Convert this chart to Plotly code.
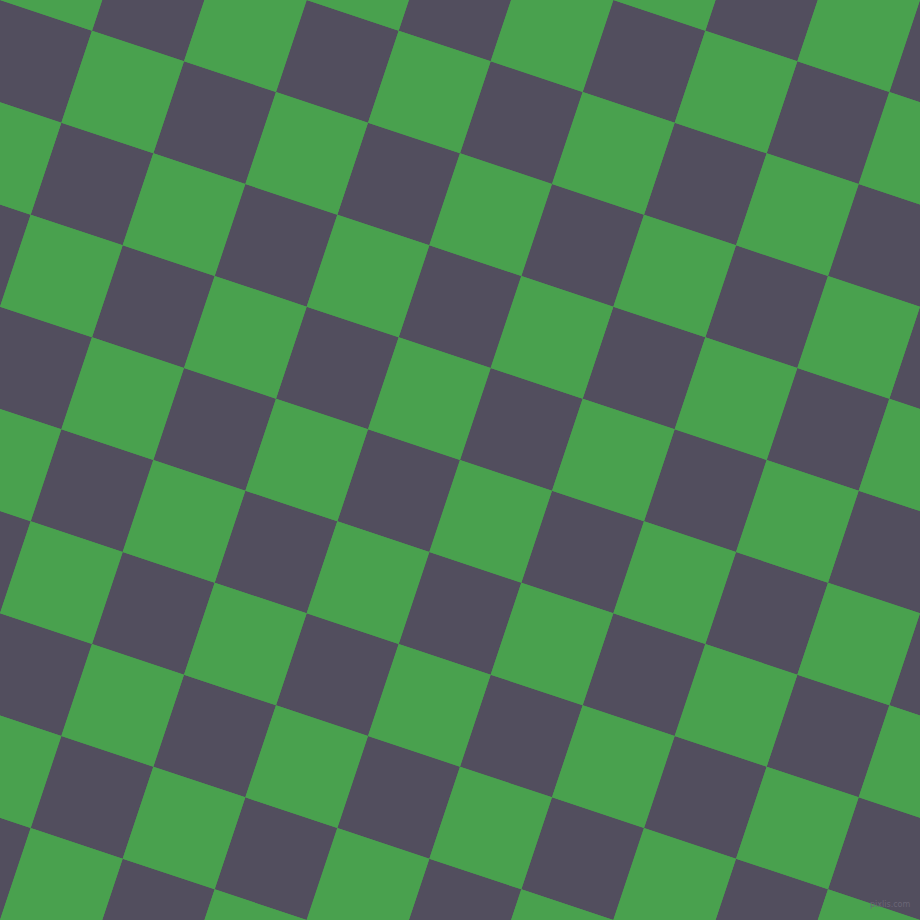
import plotly.graph_objects as go

# lattice of the rotated checkerboard (pixel units, y down)
step_x = 92.0          # one cell edge: +92 in x, +92/3 in y
step_y = 92.0 / 3.0
rows = list(range(-4, 14))
cols = list(range(-4, 14))
dark_color = "#524e5e"
green_color = "#49a14e"
watermark = "pixlis.com"


def corner(i, j):
    # lattice point i*a + j*b, a=(92, 92/3), b=(-92/3, 92)
    return i * step_x - j * step_y, i * step_y + j * step_x


dark_x, dark_y, green_x, green_y = [], [], [], []
for i in cols:
    for j in rows:
        pts = [corner(i, j), corner(i + 1, j), corner(i + 1, j + 1), corner(i, j + 1), corner(i, j)]
        xs = [p[0] for p in pts] + [None]
        ys = [p[1] for p in pts] + [None]
        if (i + j) % 2 == 0:
            dark_x += xs
            dark_y += ys
        else:
            green_x += xs
            green_y += ys

fig = go.Figure()
fig.add_trace(go.Scatter(x=dark_x, y=dark_y, mode="lines", fill="toself",
                         fillcolor=dark_color, line=dict(width=0, color=dark_color),
                         hoverinfo="skip"))
fig.add_trace(go.Scatter(x=green_x, y=green_y, mode="lines", fill="toself",
                         fillcolor=green_color, line=dict(width=0, color=green_color),
                         hoverinfo="skip"))

fig.add_annotation(x=912, y=904, text=watermark, showarrow=False, xanchor="right",
                   yanchor="middle", font=dict(family="DejaVu Sans", size=8, color="#6a6676"))

fig.update_layout(width=920, height=920, margin=dict(l=0, r=0, t=0, b=0),
                  showlegend=False, plot_bgcolor=green_color, paper_bgcolor=green_color,
                  xaxis=dict(range=[0, 920], visible=False, fixedrange=True),
                  yaxis=dict(range=[920, 0], visible=False, fixedrange=True))

# drop the browser's default page margin so the chart sits at 0,0
fig.write_html("out.html", config={"displayModeBar": False},
               post_script="document.body.style.margin='0';document.body.style.overflow='hidden';")
